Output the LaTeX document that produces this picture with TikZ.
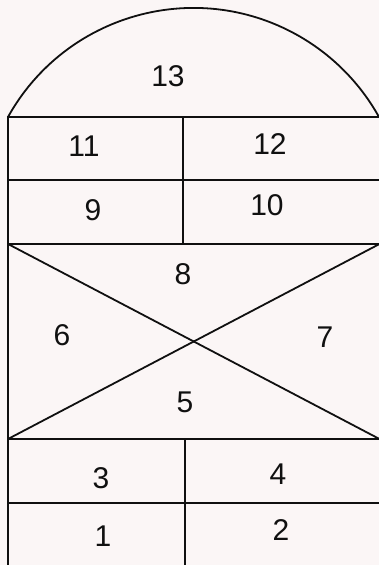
\documentclass[tikz,border=0pt]{standalone}
\usepackage{fontspec}
\setmainfont{Liberation Sans}
\definecolor{paper}{HTML}{FBF6F6}
\definecolor{ink}{HTML}{101010}
\begin{document}
\begin{tikzpicture}[x=1pt,y=1pt,
  edge/.style={draw=ink,line width=1.8pt},
  num/.style={inner sep=0pt,text=ink,font=\fontsize{30}{30}\selectfont}]
\fill[paper] (0,0) rectangle (379,565);
\useasboundingbox (0,0) rectangle (379,565);
% corners
\coordinate (tl) at (8,448);   \coordinate (tr) at (379.5,448);
\coordinate (al) at (8,385);   \coordinate (ar) at (379.5,385);
\coordinate (xl) at (8,321);   \coordinate (xr) at (379.5,321);
\coordinate (yl) at (8,126);   \coordinate (yr) at (379.5,126);
\coordinate (bl) at (8,62);    \coordinate (br) at (379.5,62);
\coordinate (zl) at (8,-2);    \coordinate (zr) at (379.5,-2);
\coordinate (mt) at (183,448); \coordinate (mb) at (183,321);
\coordinate (nt) at (185,126); \coordinate (nb) at (185,-2);
% arch
\draw[edge] (tl) arc[start angle=150.9,end angle=29.1,radius=212.3pt];
% outline and rows
\draw[edge] (zl) -- (tl) -- (tr) -- (zr);
\draw[edge] (al) -- (ar);
\draw[edge] (xl) -- (xr);
\draw[edge] (yl) -- (yr);
\draw[edge] (bl) -- (br);
\draw[edge] (mt) -- (mb);
\draw[edge] (nt) -- (nb);
% cross
\draw[edge] (xl) -- (yr);
\draw[edge] (yl) -- (xr);
% numbers
\node[num] (n13) at (168,489) {13};
\node[num] (n11) at (84,419) {11};
\node[num] (n12) at (270,421) {12};
\node[num] (n9) at (93,355) {9};
\node[num] (n10) at (267,360) {10};
\node[num] (n8) at (183,291) {8};
\node[num] (n6) at (62,230) {6};
\node[num] (n7) at (325,228) {7};
\node[num] (n5) at (185,163) {5};
\node[num] (n3) at (101,87) {3};
\node[num] (n4) at (278,91) {4};
\node[num] (n1) at (103,29) {1};
\node[num] (n2) at (281,35) {2};
\end{tikzpicture}
\end{document}
